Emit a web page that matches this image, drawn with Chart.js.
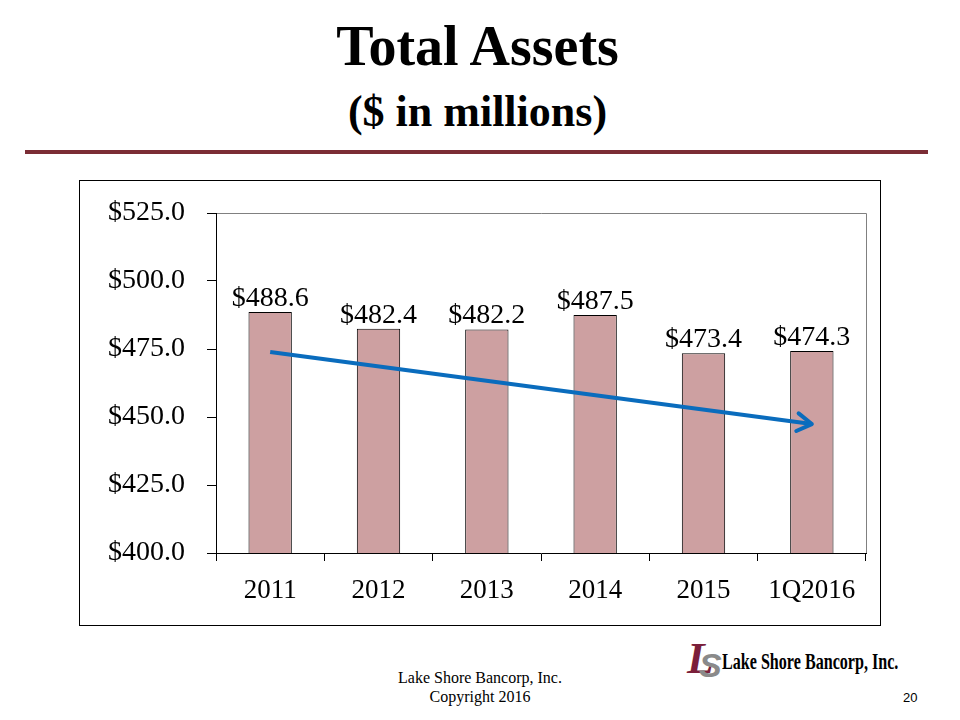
<!DOCTYPE html>
<html>
<head>
<meta charset="utf-8">
<script src="https://cdn.jsdelivr.net/npm/chart.js@4.4.1/dist/chart.umd.min.js"></script>
<style>
  body { margin: 0; width: 960px; height: 720px; background: #fff; position: relative; overflow: hidden; font-family: "Liberation Serif", serif; }
  .abs { position: absolute; white-space: nowrap; }
  #title { left: 0; width: 955px; top: 18px; text-align: center; font-size: 56px; line-height: 56px; font-weight: bold; }
  #sub { left: 0; width: 955px; top: 90px; text-align: center; font-size: 44px; line-height: 44px; font-weight: bold; }
  #rule { left: 25px; top: 150px; width: 903px; height: 4px; background: #7b2d35; }
  #box { left: 79px; top: 180px; width: 802px; height: 446px; border: 1px solid #000; box-sizing: border-box; }
  #chart { display: block; }
  #foot { left: 330px; width: 300px; top: 668px; text-align: center; font-size: 16px; line-height: 19px; }
  #page { left: 903px; top: 690px; font-family: "Liberation Sans", sans-serif; font-size: 13px; }
  #logoL { left: 687px; top: 637px; font-size: 44px; line-height: 44px; font-weight: bold; font-style: italic; color: #7b1f3a; }
  #logoS { left: 699px; top: 648px; font-family: "Liberation Sans", sans-serif; font-size: 34px; line-height: 34px; font-weight: bold; font-style: italic; color: #8a8a8a; }
  #logoT { left: 722px; top: 648px; font-size: 23px; line-height: 28px; font-weight: bold; transform: scaleX(0.7); transform-origin: left top; }
</style>
</head>
<body>
<div id="title" class="abs">Total Assets</div>
<div id="sub" class="abs">($ in millions)</div>
<div id="rule" class="abs"></div>
<div id="box" class="abs"><canvas id="chart" width="800" height="444"></canvas></div>
<div id="foot" class="abs">Lake Shore Bancorp, Inc.<br>Copyright 2016</div>
<div id="logoL" class="abs">L</div>
<div id="logoS" class="abs">S</div>
<div id="logoT" class="abs">Lake Shore Bancorp, Inc.</div>
<div id="page" class="abs">20</div>
<script>
const periods = ['2011', '2012', '2013', '2014', '2015', '1Q2016'];
const totalAssets = [488.6, 482.4, 482.2, 487.5, 473.4, 474.3];
// trend arrow drawn from the first to the last period
const trendArrow = [473.9, null, null, null, null, 447.4];
const yTicks = [400, 425, 450, 475, 500, 525];

const serif = 'Liberation Serif';
const money = (v) => '$' + v.toFixed(1);

const plotFrame = {
  id: 'plotFrame',
  beforeDraw(chart) {
    const { ctx, chartArea: a } = chart;
    ctx.save();
    ctx.strokeStyle = '#808080';
    ctx.lineWidth = 1;
    ctx.beginPath();
    ctx.moveTo(a.left, a.top + 0.5);
    ctx.lineTo(a.right + 0.5, a.top + 0.5);
    ctx.lineTo(a.right + 0.5, a.bottom);
    ctx.stroke();
    ctx.restore();
  }
};

const barLabels = {
  id: 'barLabels',
  afterDatasetsDraw(chart) {
    const { ctx } = chart;
    const meta = chart.getDatasetMeta(0);
    ctx.save();
    ctx.font = `28px "${serif}"`;
    ctx.fillStyle = '#000';
    ctx.textAlign = 'center';
    ctx.textBaseline = 'alphabetic';
    meta.data.forEach((bar, i) => {
      ctx.fillText(money(totalAssets[i]), bar.x, bar.y - 6);
    });
    ctx.restore();
  }
};

const arrowHead = {
  id: 'arrowHead',
  afterDatasetsDraw(chart) {
    const pts = chart.getDatasetMeta(1).data.filter((p, i) => trendArrow[i] !== null);
    if (pts.length < 2) return;
    const a = pts[pts.length - 2], b = pts[pts.length - 1];
    const ang = Math.atan2(b.y - a.y, b.x - a.x);
    const len = 17, spread = 0.55;
    const { ctx } = chart;
    ctx.save();
    ctx.strokeStyle = '#0a6cbd';
    ctx.lineWidth = 4;
    ctx.lineCap = 'round';
    ctx.lineJoin = 'round';
    ctx.beginPath();
    ctx.moveTo(b.x - len * Math.cos(ang - spread), b.y - len * Math.sin(ang - spread));
    ctx.lineTo(b.x, b.y);
    ctx.lineTo(b.x - len * Math.cos(ang + spread), b.y - len * Math.sin(ang + spread));
    ctx.stroke();
    ctx.restore();
  }
};

new Chart(document.getElementById('chart'), {
  data: {
    labels: periods,
    datasets: [
      {
        type: 'bar',
        data: totalAssets,
        backgroundColor: '#cda0a1',
        borderColor: '#000',
        borderWidth: 1,
        barPercentage: 0.4,
        categoryPercentage: 1,
        order: 1
      },
      {
        type: 'line',
        data: trendArrow,
        spanGaps: true,
        borderColor: '#0a6cbd',
        borderWidth: 4,
        pointRadius: 0,
        order: 0
      }
    ]
  },
  options: {
    responsive: false,
    animation: false,
    layout: { padding: { top: 32, right: 14, left: 0, bottom: 0 } },
    plugins: { legend: { display: false }, tooltip: { enabled: false } },
    scales: {
      x: {
        afterFit: (s) => { s.height = 72; s.paddingLeft = 0; s.paddingRight = 0; },
        grid: { offset: true, drawOnChartArea: false, tickLength: 8, color: '#000' },
        border: { color: '#000', width: 1 },
        ticks: { color: '#000', font: { family: serif, size: 27 }, padding: 14, maxRotation: 0 }
      },
      y: {
        min: 400,
        max: 525,
        afterFit: (s) => { s.width = 136; s.paddingTop = 0; s.paddingBottom = 0; },
        afterBuildTicks: (s) => { s.ticks = yTicks.map((v) => ({ value: v })); },
        grid: { drawOnChartArea: false, tickLength: 9, color: '#000' },
        border: { color: '#000', width: 1 },
        ticks: { color: '#000', font: { family: serif, size: 28 }, padding: 22, callback: (v) => money(v) }
      }
    }
  },
  plugins: [plotFrame, barLabels, arrowHead]
});
</script>
</body>
</html>
